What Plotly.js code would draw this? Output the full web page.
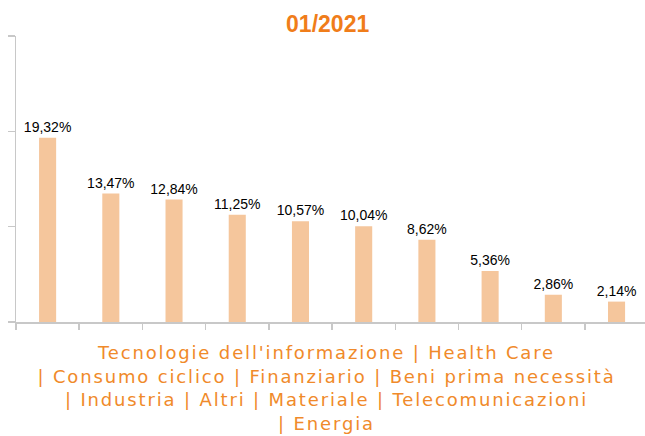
<!DOCTYPE html>
<html>
<head>
<meta charset="utf-8">
<script src="https://cdn.plot.ly/plotly-3.0.1.min.js"></script>
<style>
html,body{margin:0;padding:0;background:#fff;}
#chart{width:645px;height:436px;}
</style>
</head>
<body>
<div id="chart"></div>
<script>
const categories = ["Tecnologie dell'informazione","Health Care","Consumo ciclico","Finanziario","Beni prima necessità","Industria","Altri","Materiale","Telecomunicazioni","Energia"];
const values = [19.32, 13.47, 12.84, 11.25, 10.57, 10.04, 8.62, 5.36, 2.86, 2.14];
const yTicks = [0, 10, 20, 30];
const chartTitle = "01/2021";
const axisTitle = "Tecnologie dell'informazione | Health Care<br>| Consumo ciclico | Finanziario | Beni prima necessità<br>| Industria | Altri | Materiale | Telecomunicazioni<br>| Energia";

const labels = values.map(v => v.toFixed(2).replace('.', ',') + '%');

const trace = {
  type: 'bar',
  x: categories,
  y: values,
  text: labels,
  textposition: 'outside',
  constraintext: 'none',
  cliponaxis: false,
  textfont: {family: 'Liberation Sans, Arial, sans-serif', size: 14, color: '#000'},
  marker: {color: '#F5C69C'},
  width: 0.27,
  hoverinfo: 'none'
};

const layout = {
  width: 645, height: 436,
  margin: {l: 16, r: 0, t: 36, b: 114},
  paper_bgcolor: '#fff', plot_bgcolor: '#fff',
  showlegend: false,
  title: {text: '<b>' + chartTitle + '</b>', x: 0.508, xanchor: 'center', y: 0.945, yanchor: 'middle',
          font: {family: 'Liberation Sans, Arial, sans-serif', size: 23, color: '#F07D1A'}},
  xaxis: {
    type: 'category',
    range: [-0.5, 9.45],
    showline: true, linecolor: '#C8C8C8', linewidth: 1.5,
    ticks: 'outside', tickson: 'boundaries', ticklen: 6, tickcolor: '#C8C8C8', tickwidth: 1.5,
    showticklabels: false, showgrid: false, zeroline: false,
    title: {text: axisTitle, standoff: 24,
            font: {family: 'DejaVu Sans, sans-serif', size: 18, color: '#F08A2A'}},
    automargin: false
  },
  yaxis: {
    range: [0, 30],
    tickvals: yTicks,
    showline: true, linecolor: '#C8C8C8', linewidth: 1.5,
    ticks: 'outside', ticklen: 7, tickcolor: '#C8C8C8', tickwidth: 1.5,
    showticklabels: false, showgrid: false, zeroline: false,
    automargin: false
  }
};

function styleTitle() {
  document.querySelectorAll('text.xtitle, text.xtitle tspan').forEach(function (el) {
    el.setAttribute('letter-spacing', '1.85');
    el.style.setProperty('letter-spacing', '1.85px', 'important');
    const x = el.getAttribute('x');
    if (x !== null && x !== '') el.setAttribute('x', parseFloat(x) - 4);
  });
}
Plotly.newPlot('chart', [trace], layout, {staticPlot: true, displayModeBar: false}).then(styleTitle);
</script>
</body>
</html>
